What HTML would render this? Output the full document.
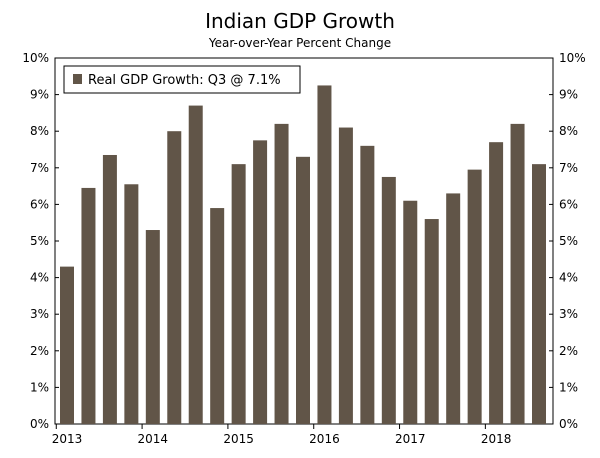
<!DOCTYPE html>
<html><head><meta charset="utf-8"><style>
body{margin:0;background:#fff;}
svg text{font-family:"DejaVu Sans","Liberation Sans",sans-serif;fill:#000;}
</style></head><body>
<svg width="600" height="453" viewBox="0 0 600 453">
<text x="300" y="28" text-anchor="middle" font-size="20">Indian GDP Growth</text>
<text x="300" y="47" text-anchor="middle" font-size="12">Year-over-Year Percent Change</text>
<g id="plot"></g>
</svg>
<script>
const categories=["2013Q1","2013Q2","2013Q3","2013Q4","2014Q1","2014Q2","2014Q3","2014Q4","2015Q1","2015Q2","2015Q3","2015Q4","2016Q1","2016Q2","2016Q3","2016Q4","2017Q1","2017Q2","2017Q3","2017Q4","2018Q1","2018Q2","2018Q3"];
const values=[4.3,6.45,7.35,6.55,5.3,8.0,8.7,5.9,7.1,7.75,8.2,7.3,9.25,8.1,7.6,6.75,6.1,5.6,6.3,6.95,7.7,8.2,7.1];
const yTicks=[0,1,2,3,4,5,6,7,8,9,10];
const yearLabels=["2013","2014","2015","2016","2017","2018"];
const NS="http://www.w3.org/2000/svg";
const g=document.getElementById('plot');
const L=55,R=553,T=58,B=424;
const y=v=>B-(v/10)*(B-T);
const x0=67,x1=539;
const step=(x1-x0)/(categories.length-1);
const x=i=>x0+step*i;
function mk(t,a){const e=document.createElementNS(NS,t);for(const k in a)e.setAttribute(k,a[k]);g.appendChild(e);return e;}
let e=mk('rect',{x:L,y:T,width:R-L,height:B-T,fill:'none',stroke:'#000','stroke-width':1});


yTicks.forEach(t=>{
  let a=mk('text',{x:L-6,y:y(t)+4,'text-anchor':'end','font-size':12});a.textContent=t+'%';
  
  
  let b=mk('text',{x:R+6,y:y(t)+4,'text-anchor':'start','font-size':12});b.textContent=t+'%';
  
  
  mk('line',{x1:L,x2:L+4,y1:y(t),y2:y(t),stroke:'#000'});
  mk('line',{x1:R-4,x2:R,y1:y(t),y2:y(t),stroke:'#000'});
});
values.forEach((v,i)=>{
  let r=mk('rect',{x:x(i)-7,y:y(v),width:14,height:B-y(v),fill:'#615548'});
  
  
});
yearLabels.forEach((yl,k)=>{
  const i=k*4;
  let t=mk('text',{x:x(i),y:B+19,'text-anchor':'middle','font-size':12});t.textContent=yl;
  
  
  mk('line',{x1:x(i)-step/2,x2:x(i)-step/2,y1:B,y2:B+5,stroke:'#000'});
});
let lg=mk('rect',{x:64,y:66,width:236,height:27,fill:'#fff',stroke:'#000'});


let ls=mk('rect',{x:73,y:74,width:9,height:10,fill:'#615548'});


let lt=mk('text',{x:88,y:84,'font-size':13});lt.textContent='Real GDP Growth: Q3 @ 7.1%';


</script>
</body></html>
